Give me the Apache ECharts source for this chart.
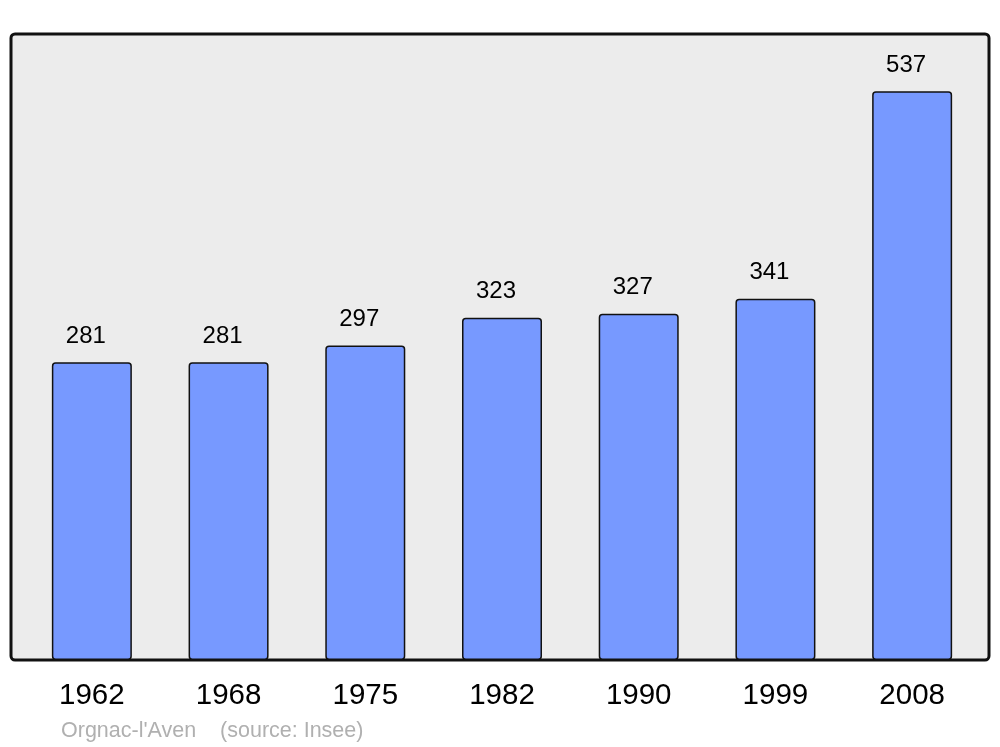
<!DOCTYPE html>
<html>
<head>
<meta charset="utf-8">
<script src="https://cdn.jsdelivr.net/npm/echarts@6/dist/echarts.min.js"></script>
<style>html,body{margin:0;padding:0;background:#fff}#c{width:1000px;height:747px}</style>
</head>
<body>
<div id="c"></div>
<script>
const years = ['1962', '1968', '1975', '1982', '1990', '1999', '2008'];
const population = [281, 281, 297, 323, 327, 341, 537];
const footer = "Orgnac-l'Aven    (source: Insee)";

const chart = echarts.init(document.getElementById('c'));
chart.setOption({
  animation: false,
  backgroundColor: '#ffffff',
  textStyle: { fontFamily: 'Liberation Sans' },
  title: {
    text: footer,
    left: 56,
    top: 715,
    textStyle: { fontSize: 21.5, fontWeight: 'normal', color: '#b0b0b0', fontFamily: 'Liberation Sans' }
  },
  graphic: [{
    type: 'rect',
    z: -10,
    shape: { x: 11, y: 34, width: 978, height: 626, r: 4 },
    style: { fill: '#ececec', stroke: '#111111', lineWidth: 3 }
  }],
  grid: { left: 23.5, right: 19.5, top: 34, bottom: 87 },
  xAxis: {
    type: 'category',
    data: years,
    axisLine: { show: false },
    axisTick: { show: false },
    axisLabel: { fontSize: 29.5, color: '#000', margin: 21, fontFamily: 'Liberation Sans' }
  },
  yAxis: {
    type: 'value',
    min: 0,
    max: 591,
    show: false,
    splitLine: { show: false }
  },
  series: [{
    type: 'bar',
    data: population,
    barWidth: 80,
    itemStyle: { color: '#7799ff', borderColor: '#111111', borderWidth: 1.5, borderRadius: 3 },
    label: {
      show: true,
      position: 'top',
      distance: 14,
      offset: [-6, 0],
      fontSize: 24,
      color: '#000',
      fontFamily: 'Liberation Sans'
    }
  }]
});
</script>
</body>
</html>
